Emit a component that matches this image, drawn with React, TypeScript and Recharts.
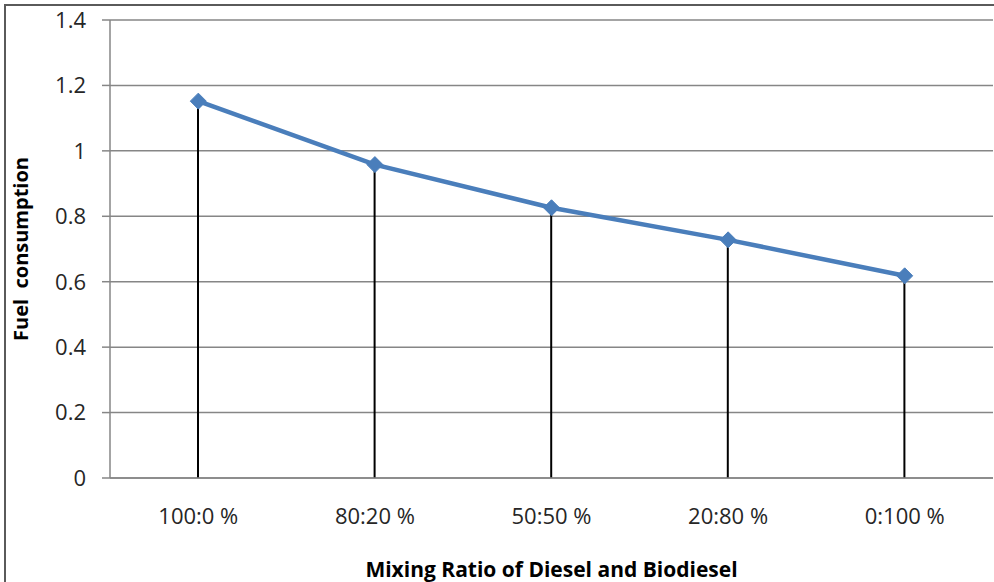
import React from "react";
import { Bar, CartesianGrid, ComposedChart, Line, XAxis, YAxis } from "recharts";

const ratios = ["100:0 %", "80:20 %", "50:50 %", "20:80 %", "0:100 %"];
const consumption = [1.152, 0.958, 0.826, 0.728, 0.618];
const yTicks = [0, 0.2, 0.4, 0.6, 0.8, 1, 1.2, 1.4];

const data = ratios.map((ratio, i) => ({ ratio, value: consumption[i] }));

const FONT = "'Open Sans', 'Liberation Sans', sans-serif";
const AXIS_GRAY = "#868686";
const LINE_BLUE = "#4A7EBB";

function Diamond(props: any) {
  const { cx, cy, index } = props;
  if (cx == null || cy == null) return null;
  const r = 8;
  return (
    <path
      key={`d-${index}`}
      d={`M${cx},${cy - r} L${cx + r},${cy} L${cx},${cy + r} L${cx - r},${cy} Z`}
      fill={LINE_BLUE}
      stroke={LINE_BLUE}
      strokeWidth={1}
    />
  );
}

function YTitle(props: any) {
  const { viewBox } = props;
  const cy = viewBox.y + viewBox.height / 2;
  const cx = 20;
  return (
    <text
      x={cx}
      y={cy}
      transform={`rotate(-90 ${cx} ${cy})`}
      textAnchor="middle"
      dominantBaseline="central"
      fontFamily={FONT}
      fontWeight={700}
      fontSize={20}
      fill="#000"
      style={{ whiteSpace: "pre" }}
    >
      {"Fuel  consumption"}
    </text>
  );
}

export default function App() {
  return (
    <div style={{ position: "fixed", left: 0, top: 0, width: 994, height: 582, background: "#fff" }}>
      <div
        style={{
          position: "absolute",
          left: 4,
          top: 4,
          width: 1000,
          height: 600,
          border: "2px solid #5a5a5a",
          boxSizing: "border-box",
        }}
      />
      <div style={{ position: "absolute", left: 0, top: 0 }}>
        <ComposedChart
          width={994}
          height={582}
          data={data}
          margin={{ top: 20, right: 1, bottom: 0, left: 0 }}
          barCategoryGap="0%"
        >
          <CartesianGrid vertical={false} stroke={AXIS_GRAY} strokeWidth={1.5} />
          <XAxis
            dataKey="ratio"
            height={104}
            axisLine={{ stroke: AXIS_GRAY, strokeWidth: 1.5 }}
            tickLine={false}
            tickSize={0}
            tickMargin={30}
            tick={{ fontFamily: FONT, fontSize: 22, fill: "#262626" }}
            label={{
              value: "Mixing Ratio of Diesel and Biodiesel",
              position: "insideBottom",
              offset: 5,
              fontFamily: FONT,
              fontWeight: 700,
              fontSize: 21,
              fill: "#000",
            }}
          />
          <YAxis
            width={110}
            domain={[0, 1.4]}
            ticks={yTicks}
            interval={0}
            axisLine={{ stroke: AXIS_GRAY, strokeWidth: 1.5 }}
            tickLine={{ stroke: AXIS_GRAY, strokeWidth: 1.5 }}
            tickSize={8}
            tickMargin={16}
            tick={{ fontFamily: FONT, fontSize: 22, fill: "#262626" }}
            label={<YTitle />}
          />
          <Line
            dataKey="value"
            stroke={LINE_BLUE}
            strokeWidth={4.5}
            dot={<Diamond />}
            activeDot={false}
            isAnimationActive={false}
          />
          <Bar dataKey="value" barSize={2} fill="#000" isAnimationActive={false} />
        </ComposedChart>
      </div>
    </div>
  );
}
